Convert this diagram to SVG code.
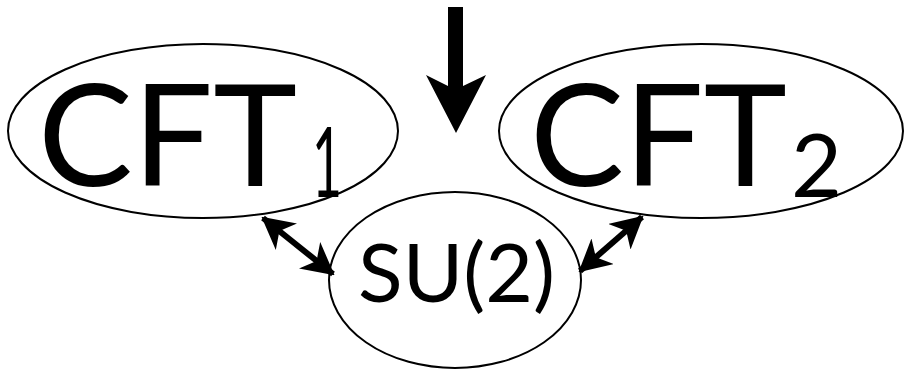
<svg xmlns="http://www.w3.org/2000/svg" width="905" height="371" viewBox="0 0 905 371">
<style>
.node{fill:#fff;stroke:#000;stroke-width:2}
.lbl{font-family:"Lato","Open Sans","Liberation Sans",sans-serif;fill:#000}
.conn{stroke:#000;stroke-width:6;fill:none}
</style>
<defs>
<marker id="ah" markerUnits="userSpaceOnUse" viewBox="0 0 32 34" refX="30" refY="17" markerWidth="32" markerHeight="34" orient="auto-start-reverse">
<path d="M0,0 L32,17 L0,34 L9,17 z" fill="#000"/>
</marker>
</defs>
<g id="cft1">
<ellipse class="node" cx="203" cy="131" rx="195" ry="87"/>
<text class="lbl" x="38" y="186" font-size="142" textLength="259" lengthAdjust="spacingAndGlyphs">CFT</text>
<text class="lbl" x="312" y="197" font-size="96" textLength="30" lengthAdjust="spacingAndGlyphs">1</text>
</g>
<g id="cft2">
<ellipse class="node" cx="701" cy="131" rx="202" ry="87"/>
<text class="lbl" x="530" y="186" font-size="142" textLength="257" lengthAdjust="spacingAndGlyphs">CFT</text>
<text class="lbl" x="791" y="197" font-size="88">2</text>
</g>
<g id="su2">
<ellipse class="node" cx="455" cy="280" rx="126" ry="88"/>
<text class="lbl" x="358" y="302" font-size="82" textLength="197" lengthAdjust="spacingAndGlyphs">SU(2)</text>
</g>
<g id="connectors">
<polygon points="448,7 463,7 463,86 486,75 456,133 426,75 448,86" fill="#000"/>
<line class="conn" x1="263" y1="218" x2="333" y2="274" marker-start="url(#ah)" marker-end="url(#ah)"/>
<line class="conn" x1="580" y1="271" x2="642" y2="217" marker-start="url(#ah)" marker-end="url(#ah)"/>
</g>
</svg>
